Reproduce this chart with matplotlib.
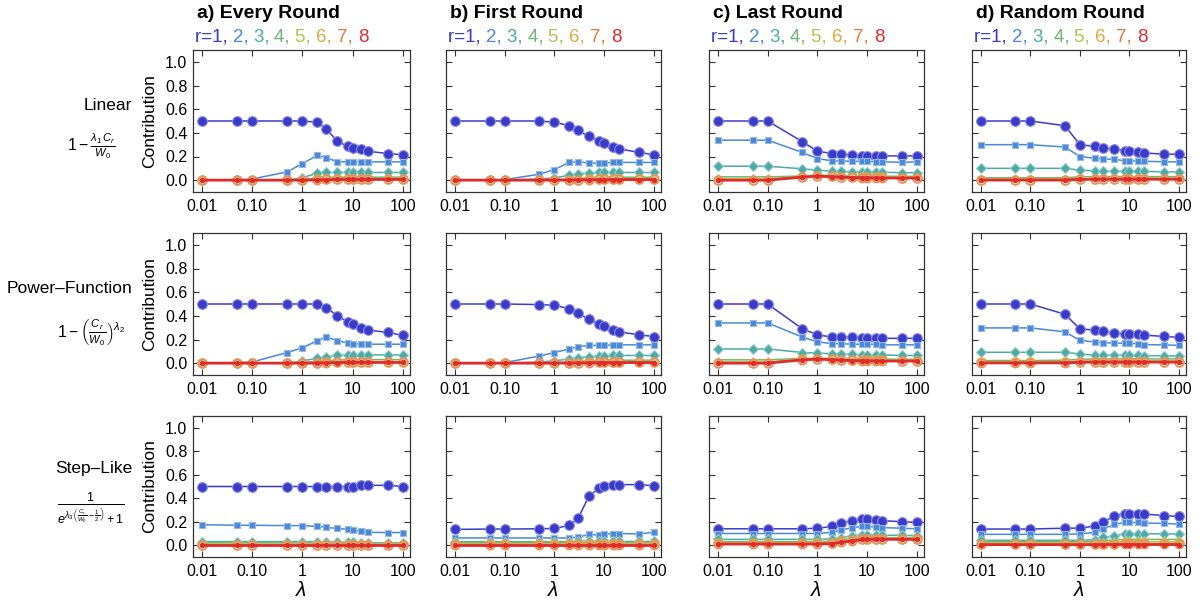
import matplotlib
matplotlib.use('Agg')
import matplotlib.pyplot as plt
from matplotlib.ticker import FixedLocator, LogLocator, NullFormatter

plt.rcParams['font.family'] = ['Liberation Sans', 'DejaVu Sans']
plt.rcParams['mathtext.fontset'] = 'custom'
plt.rcParams['mathtext.rm'] = 'Liberation Sans'
plt.rcParams['mathtext.it'] = 'Liberation Sans:italic'

W, H = 1201, 605

lam = [0.01, 0.05, 0.1, 0.5, 1, 2, 3, 5, 8, 10, 15, 20, 50, 100]

col_titles = ['a) Every Round', 'b) First Round', 'c) Last Round', 'd) Random Round']
row_names = ['Linear', 'Power\u2013Function', 'Step\u2013Like']
row_formulas = [r'$1-\frac{\lambda_1\,C_r}{W_0}$',
                r'$1-\left(\frac{C_r}{W_0}\right)^{\lambda_2}$',
                r'$\frac{1}{e^{\lambda_3\left(\frac{C_r}{W_0}-\frac{1}{2}\right)}+1}$']
round_labels = ['r=1, ', '2, ', '3, ', '4, ', '5, ', '6, ', '7, ', '8']

# contribution of round r (rows of each list: r=1..8) vs lambda
linear_every = [
    [0.50, 0.50, 0.50, 0.50, 0.50, 0.49, 0.43, 0.33, 0.285, 0.27, 0.26, 0.245, 0.225, 0.215],
    [0.00, 0.00, 0.01, 0.07, 0.14, 0.21, 0.19, 0.155, 0.155, 0.155, 0.155, 0.155, 0.155, 0.155],
    [0.00, 0.00, 0.00, 0.00, 0.02, 0.06, 0.065, 0.065, 0.065, 0.065, 0.065, 0.065, 0.065, 0.065],
    [0.00, 0.00, 0.00, 0.00, 0.005, 0.02, 0.025, 0.025, 0.025, 0.025, 0.025, 0.025, 0.025, 0.025],
    [0.00, 0.00, 0.00, 0.00, 0.00, 0.01, 0.012, 0.012, 0.012, 0.012, 0.012, 0.012, 0.012, 0.012],
    [0.00, 0.00, 0.00, 0.00, 0.00, 0.006, 0.008, 0.01, 0.01, 0.01, 0.01, 0.01, 0.01, 0.01],
    [0.00, 0.00, 0.00, 0.00, 0.00, 0.004, 0.006, 0.008, 0.008, 0.008, 0.008, 0.008, 0.008, 0.008],
    [0.00, 0.00, 0.00, 0.00, 0.00, 0.002, 0.004, 0.006, 0.006, 0.006, 0.006, 0.006, 0.006, 0.006],
]
linear_first = [
    [0.50, 0.50, 0.50, 0.50, 0.49, 0.46, 0.42, 0.37, 0.33, 0.31, 0.28, 0.265, 0.235, 0.215],
    [0.00, 0.00, 0.005, 0.05, 0.09, 0.15, 0.155, 0.145, 0.145, 0.145, 0.15, 0.15, 0.15, 0.15],
    [0.00, 0.00, 0.00, 0.01, 0.02, 0.04, 0.055, 0.06, 0.065, 0.065, 0.065, 0.065, 0.065, 0.065],
    [0.00, 0.00, 0.00, 0.00, 0.005, 0.01, 0.015, 0.02, 0.02, 0.025, 0.025, 0.025, 0.025, 0.025],
    [0.00, 0.00, 0.00, 0.00, 0.00, 0.005, 0.008, 0.01, 0.01, 0.012, 0.012, 0.012, 0.012, 0.012],
    [0.00, 0.00, 0.00, 0.00, 0.00, 0.003, 0.005, 0.007, 0.008, 0.008, 0.009, 0.009, 0.009, 0.009],
    [0.00, 0.00, 0.00, 0.00, 0.00, 0.002, 0.003, 0.005, 0.006, 0.006, 0.007, 0.007, 0.007, 0.007],
    [0.00, 0.00, 0.00, 0.00, 0.00, 0.001, 0.002, 0.003, 0.004, 0.004, 0.005, 0.005, 0.005, 0.005],
]
linear_last = [
    [0.50, 0.50, 0.50, 0.325, 0.245, 0.225, 0.222, 0.212, 0.205, 0.208, 0.205, 0.205, 0.205, 0.205],
    [0.338, 0.338, 0.338, 0.234, 0.183, 0.163, 0.162, 0.16, 0.158, 0.158, 0.156, 0.155, 0.151, 0.155],
    [0.118, 0.118, 0.118, 0.096, 0.084, 0.076, 0.074, 0.07, 0.07, 0.07, 0.068, 0.066, 0.064, 0.062],
    [0.028, 0.028, 0.028, 0.035, 0.04, 0.038, 0.036, 0.035, 0.034, 0.034, 0.033, 0.033, 0.032, 0.032],
    [0.01, 0.01, 0.01, 0.032, 0.04, 0.036, 0.033, 0.03, 0.028, 0.028, 0.027, 0.026, 0.025, 0.025],
    [0.005, 0.005, 0.005, 0.03, 0.038, 0.033, 0.03, 0.027, 0.025, 0.025, 0.024, 0.023, 0.022, 0.022],
    [0.002, 0.002, 0.002, 0.028, 0.036, 0.031, 0.028, 0.024, 0.022, 0.022, 0.021, 0.02, 0.02, 0.02],
    [0.00, 0.00, 0.00, 0.026, 0.034, 0.029, 0.026, 0.022, 0.02, 0.02, 0.019, 0.018, 0.018, 0.018],
]
linear_random = [
    [0.50, 0.50, 0.50, 0.46, 0.30, 0.285, 0.275, 0.265, 0.25, 0.245, 0.24, 0.23, 0.22, 0.22],
    [0.30, 0.30, 0.30, 0.28, 0.20, 0.185, 0.18, 0.175, 0.165, 0.165, 0.16, 0.16, 0.155, 0.155],
    [0.10, 0.10, 0.10, 0.10, 0.085, 0.08, 0.075, 0.075, 0.075, 0.075, 0.075, 0.075, 0.07, 0.07],
    [0.02, 0.02, 0.02, 0.02, 0.028, 0.03, 0.03, 0.03, 0.03, 0.03, 0.03, 0.03, 0.03, 0.03],
    [0.01, 0.01, 0.01, 0.01, 0.015, 0.017, 0.018, 0.018, 0.018, 0.018, 0.018, 0.018, 0.018, 0.018],
    [0.005, 0.005, 0.005, 0.005, 0.01, 0.012, 0.012, 0.012, 0.012, 0.012, 0.012, 0.012, 0.012, 0.012],
    [0.003, 0.003, 0.003, 0.003, 0.008, 0.01, 0.01, 0.01, 0.01, 0.01, 0.01, 0.01, 0.01, 0.01],
    [0.001, 0.001, 0.001, 0.001, 0.006, 0.008, 0.008, 0.008, 0.008, 0.008, 0.008, 0.008, 0.008, 0.008],
]
power_every = [
    [0.50, 0.50, 0.50, 0.50, 0.50, 0.50, 0.47, 0.40, 0.35, 0.33, 0.30, 0.28, 0.26, 0.235],
    [0.00, 0.005, 0.01, 0.09, 0.13, 0.19, 0.22, 0.19, 0.17, 0.165, 0.16, 0.16, 0.16, 0.16],
    [0.00, 0.00, 0.00, 0.00, 0.02, 0.04, 0.055, 0.065, 0.07, 0.07, 0.07, 0.07, 0.07, 0.07],
    [0.00, 0.00, 0.00, 0.00, 0.005, 0.015, 0.02, 0.025, 0.03, 0.03, 0.03, 0.03, 0.03, 0.03],
    [0.00, 0.00, 0.00, 0.00, 0.00, 0.006, 0.01, 0.012, 0.014, 0.014, 0.014, 0.014, 0.014, 0.014],
    [0.00, 0.00, 0.00, 0.00, 0.00, 0.004, 0.007, 0.009, 0.01, 0.01, 0.01, 0.01, 0.01, 0.01],
    [0.00, 0.00, 0.00, 0.00, 0.00, 0.002, 0.005, 0.007, 0.008, 0.008, 0.008, 0.008, 0.008, 0.008],
    [0.00, 0.00, 0.00, 0.00, 0.00, 0.001, 0.003, 0.005, 0.006, 0.006, 0.006, 0.006, 0.006, 0.006],
]
power_first = [
    [0.50, 0.50, 0.50, 0.495, 0.49, 0.46, 0.42, 0.37, 0.33, 0.31, 0.28, 0.265, 0.24, 0.225],
    [0.00, 0.00, 0.005, 0.06, 0.09, 0.12, 0.14, 0.15, 0.15, 0.15, 0.155, 0.155, 0.155, 0.155],
    [0.00, 0.00, 0.00, 0.01, 0.02, 0.035, 0.045, 0.055, 0.06, 0.06, 0.065, 0.065, 0.065, 0.065],
    [0.00, 0.00, 0.00, 0.00, 0.005, 0.01, 0.015, 0.02, 0.022, 0.024, 0.025, 0.025, 0.025, 0.025],
    [0.00, 0.00, 0.00, 0.00, 0.00, 0.004, 0.007, 0.01, 0.011, 0.012, 0.012, 0.012, 0.012, 0.012],
    [0.00, 0.00, 0.00, 0.00, 0.00, 0.003, 0.005, 0.007, 0.008, 0.008, 0.009, 0.009, 0.009, 0.009],
    [0.00, 0.00, 0.00, 0.00, 0.00, 0.002, 0.003, 0.005, 0.006, 0.006, 0.007, 0.007, 0.007, 0.007],
    [0.00, 0.00, 0.00, 0.00, 0.00, 0.001, 0.002, 0.003, 0.004, 0.004, 0.005, 0.005, 0.005, 0.005],
]
power_last = [
    [0.50, 0.50, 0.50, 0.29, 0.24, 0.22, 0.22, 0.22, 0.215, 0.215, 0.21, 0.21, 0.21, 0.21],
    [0.34, 0.34, 0.34, 0.22, 0.18, 0.165, 0.165, 0.16, 0.16, 0.16, 0.16, 0.155, 0.155, 0.155],
    [0.12, 0.12, 0.12, 0.09, 0.085, 0.08, 0.075, 0.075, 0.07, 0.07, 0.07, 0.07, 0.065, 0.065],
    [0.028, 0.028, 0.028, 0.04, 0.042, 0.04, 0.038, 0.036, 0.035, 0.035, 0.034, 0.034, 0.033, 0.033],
    [0.01, 0.01, 0.01, 0.035, 0.04, 0.036, 0.033, 0.03, 0.028, 0.028, 0.027, 0.026, 0.025, 0.025],
    [0.005, 0.005, 0.005, 0.033, 0.038, 0.033, 0.03, 0.027, 0.025, 0.025, 0.024, 0.023, 0.022, 0.022],
    [0.002, 0.002, 0.002, 0.03, 0.036, 0.031, 0.028, 0.024, 0.022, 0.022, 0.021, 0.02, 0.02, 0.02],
    [0.00, 0.00, 0.00, 0.028, 0.034, 0.029, 0.026, 0.022, 0.02, 0.02, 0.019, 0.018, 0.018, 0.018],
]
power_random = [
    [0.50, 0.50, 0.50, 0.413, 0.29, 0.279, 0.268, 0.257, 0.25, 0.25, 0.245, 0.237, 0.226, 0.218],
    [0.298, 0.298, 0.298, 0.265, 0.193, 0.179, 0.173, 0.17, 0.168, 0.168, 0.165, 0.157, 0.154, 0.151],
    [0.092, 0.092, 0.092, 0.092, 0.078, 0.067, 0.067, 0.067, 0.067, 0.066, 0.065, 0.064, 0.062, 0.061],
    [0.022, 0.022, 0.022, 0.025, 0.032, 0.035, 0.036, 0.036, 0.036, 0.036, 0.036, 0.036, 0.036, 0.036],
    [0.012, 0.012, 0.012, 0.013, 0.018, 0.02, 0.02, 0.02, 0.02, 0.02, 0.02, 0.02, 0.02, 0.02],
    [0.007, 0.007, 0.007, 0.008, 0.012, 0.014, 0.014, 0.014, 0.014, 0.014, 0.014, 0.014, 0.014, 0.014],
    [0.004, 0.004, 0.004, 0.005, 0.009, 0.011, 0.011, 0.011, 0.011, 0.011, 0.011, 0.011, 0.011, 0.011],
    [0.002, 0.002, 0.002, 0.003, 0.007, 0.009, 0.009, 0.009, 0.009, 0.009, 0.009, 0.009, 0.009, 0.009],
]
step_every = [
    [0.50, 0.50, 0.50, 0.50, 0.50, 0.50, 0.50, 0.50, 0.50, 0.50, 0.51, 0.51, 0.51, 0.50],
    [0.175, 0.17, 0.17, 0.167, 0.167, 0.16, 0.152, 0.143, 0.135, 0.127, 0.12, 0.11, 0.108, 0.108],
    [0.031, 0.031, 0.031, 0.031, 0.031, 0.03, 0.029, 0.027, 0.025, 0.024, 0.022, 0.021, 0.02, 0.02],
    [0.02, 0.02, 0.02, 0.02, 0.02, 0.02, 0.019, 0.018, 0.017, 0.016, 0.015, 0.015, 0.014, 0.014],
    [0.01, 0.01, 0.01, 0.01, 0.01, 0.01, 0.01, 0.01, 0.01, 0.01, 0.01, 0.01, 0.01, 0.01],
    [0.006, 0.006, 0.006, 0.006, 0.006, 0.006, 0.006, 0.006, 0.006, 0.006, 0.006, 0.006, 0.006, 0.006],
    [0.004, 0.004, 0.004, 0.004, 0.004, 0.004, 0.004, 0.004, 0.004, 0.004, 0.004, 0.004, 0.004, 0.004],
    [0.002, 0.002, 0.002, 0.002, 0.002, 0.002, 0.002, 0.002, 0.002, 0.002, 0.002, 0.002, 0.002, 0.002],
]
step_first = [
    [0.135, 0.138, 0.138, 0.14, 0.143, 0.169, 0.228, 0.422, 0.485, 0.502, 0.516, 0.516, 0.516, 0.507],
    [0.062, 0.062, 0.062, 0.062, 0.062, 0.062, 0.068, 0.093, 0.085, 0.093, 0.10, 0.10, 0.096, 0.11],
    [0.03, 0.03, 0.03, 0.03, 0.03, 0.03, 0.032, 0.04, 0.033, 0.033, 0.032, 0.032, 0.032, 0.032],
    [0.02, 0.02, 0.02, 0.02, 0.02, 0.02, 0.02, 0.022, 0.02, 0.02, 0.02, 0.02, 0.02, 0.02],
    [0.012, 0.012, 0.012, 0.012, 0.012, 0.012, 0.012, 0.012, 0.012, 0.012, 0.012, 0.012, 0.012, 0.012],
    [0.008, 0.008, 0.008, 0.008, 0.008, 0.008, 0.008, 0.008, 0.008, 0.008, 0.008, 0.008, 0.008, 0.008],
    [0.005, 0.005, 0.005, 0.005, 0.005, 0.005, 0.005, 0.005, 0.005, 0.005, 0.005, 0.005, 0.005, 0.005],
    [0.003, 0.003, 0.003, 0.003, 0.003, 0.003, 0.003, 0.003, 0.003, 0.003, 0.003, 0.003, 0.003, 0.003],
]
step_last = [
    [0.14, 0.14, 0.14, 0.14, 0.145, 0.16, 0.19, 0.21, 0.22, 0.22, 0.215, 0.21, 0.20, 0.195],
    [0.10, 0.10, 0.10, 0.10, 0.10, 0.11, 0.13, 0.15, 0.16, 0.16, 0.155, 0.15, 0.145, 0.14],
    [0.05, 0.05, 0.05, 0.05, 0.05, 0.055, 0.065, 0.08, 0.09, 0.09, 0.088, 0.085, 0.085, 0.082],
    [0.03, 0.03, 0.03, 0.03, 0.03, 0.035, 0.045, 0.055, 0.065, 0.065, 0.065, 0.065, 0.065, 0.065],
    [0.022, 0.022, 0.022, 0.022, 0.022, 0.027, 0.037, 0.047, 0.058, 0.06, 0.06, 0.06, 0.06, 0.06],
    [0.016, 0.016, 0.016, 0.016, 0.016, 0.021, 0.032, 0.043, 0.055, 0.057, 0.057, 0.057, 0.056, 0.056],
    [0.012, 0.012, 0.012, 0.012, 0.012, 0.017, 0.028, 0.04, 0.052, 0.054, 0.054, 0.054, 0.053, 0.053],
    [0.01, 0.01, 0.01, 0.01, 0.01, 0.014, 0.025, 0.037, 0.049, 0.051, 0.051, 0.051, 0.05, 0.05],
]
step_random = [
    [0.138, 0.138, 0.138, 0.145, 0.146, 0.163, 0.194, 0.253, 0.27, 0.27, 0.27, 0.265, 0.253, 0.245],
    [0.093, 0.093, 0.093, 0.093, 0.096, 0.11, 0.138, 0.177, 0.194, 0.194, 0.194, 0.189, 0.186, 0.18],
    [0.042, 0.042, 0.042, 0.042, 0.042, 0.048, 0.068, 0.079, 0.099, 0.099, 0.099, 0.098, 0.097, 0.096],
    [0.03, 0.03, 0.03, 0.03, 0.03, 0.032, 0.038, 0.045, 0.05, 0.05, 0.05, 0.05, 0.05, 0.05],
    [0.02, 0.02, 0.02, 0.02, 0.02, 0.021, 0.024, 0.027, 0.03, 0.03, 0.03, 0.03, 0.03, 0.03],
    [0.012, 0.012, 0.012, 0.012, 0.012, 0.012, 0.013, 0.014, 0.015, 0.015, 0.015, 0.015, 0.015, 0.015],
    [0.008, 0.008, 0.008, 0.008, 0.008, 0.008, 0.009, 0.01, 0.01, 0.01, 0.01, 0.01, 0.01, 0.01],
    [0.005, 0.005, 0.005, 0.005, 0.005, 0.005, 0.006, 0.006, 0.006, 0.006, 0.006, 0.006, 0.006, 0.006],
]

panels = [[linear_every, linear_first, linear_last, linear_random],
          [power_every, power_first, power_last, power_random],
          [step_every, step_first, step_last, step_random]]

colors = ['#3b3bc9', '#4a88d8', '#4eaaa6', '#6db86c', '#b3c14f', '#e1a840', '#e8773a', '#e02b2b']
edge_colors = ['#8c8ce2', '#93b8ea', '#94cdca', '#a4d4a4', '#d4dc98', '#e1a840', '#ec8c5c', '#e02b2b']
markers = ['o', 's', 'D', '^', 'o', 'o', 'o', 'o']
msizes = [7, 4.5, 5, 4.5, 4, 6.5, 6, 3]
lwidths = [1.1, 1.1, 1.1, 1.1, 1.1, 1.1, 1.1, 2.0]

# panel frames in pixels: (left, right) per column, (top, bottom) per row
col_px = [(193, 410), (446, 661), (709, 924), (972, 1186)]
row_px = [(50, 192), (233, 375), (416, 557)]


def fx(x):
    return x / W


def fy(y):
    return 1 - y / H


fig = plt.figure(figsize=(W / 100, H / 100), dpi=100)

for i, (top, bot) in enumerate(row_px):
    for j, (left, right) in enumerate(col_px):
        ax = fig.add_axes([fx(left), fy(bot), (right - left) / W, (bot - top) / H])
        data = panels[i][j]
        for r in range(8):
            open_m = r in (5, 6)
            ax.plot(lam, data[r], color=colors[r], lw=lwidths[r],
                    marker=markers[r], ms=msizes[r],
                    mfc='none' if open_m else colors[r],
                    mec=edge_colors[r], mew=1.1 if open_m else 0.8,
                    zorder=3 + r, clip_on=False)
        ax.set_xscale('log')
        ax.set_xlim(0.0066, 140)
        ax.set_ylim(-0.1, 1.1)
        ax.xaxis.set_major_locator(FixedLocator([0.01, 0.1, 1, 10, 100]))
        ax.xaxis.set_minor_locator(LogLocator(base=10, subs=range(2, 10)))
        ax.xaxis.set_minor_formatter(NullFormatter())
        ax.set_xticklabels(['0.01', '0.10', '1', '10', '100'])
        ax.set_yticks([0.0, 0.2, 0.4, 0.6, 0.8, 1.0])
        if j == 0:
            ax.set_yticklabels(['0.0', '0.2', '0.4', '0.6', '0.8', '1.0'])
        else:
            ax.set_yticklabels([])
        ax.tick_params(which='both', direction='in', top=True, right=True,
                       labelsize=11.5, color='#333333')
        ax.tick_params(which='major', length=4, width=0.8)
        ax.tick_params(which='minor', length=2, width=0.6)
        ax.tick_params(axis='x', pad=5)
        ax.tick_params(axis='y', pad=4)
        for s in ax.spines.values():
            s.set_color('#333333')
            s.set_linewidth(0.9)
        if j == 0:
            fig.text(fx(150), fy((top + bot) / 2), 'Contribution', rotation=90,
                     ha='center', va='center', fontsize=12.5)
        if i == 2:
            fig.text(fx((left + right) / 2), fy(591), r'$\lambda$',
                     ha='center', va='center', fontsize=15)

# column headers with coloured round list
for j, (left, right) in enumerate(col_px):
    fig.text(fx(left + 4), fy(14), col_titles[j], ha='left', va='center',
             fontsize=14, fontweight='bold')
    prev = fig.text(fx(left + 2), fy(37), round_labels[0], ha='left',
                    va='center', fontsize=13.5, color=colors[0])
    for k in range(1, 8):
        prev = fig.axes[0].annotate(round_labels[k], xy=(1, 0), xycoords=prev,
                                    ha='left', va='bottom', fontsize=13.5,
                                    color=colors[k], annotation_clip=False)

# row labels and formulas
row_label_y = [105, 288, 468]
formula_y = [146, 332, 508]
for i in range(3):
    fig.text(fx(132), fy(row_label_y[i]), row_names[i], ha='right', va='center',
             fontsize=12.5)
    fig.text(fx(91), fy(formula_y[i]), row_formulas[i], ha='center', va='center',
             fontsize=11.5 if i < 2 else 13)

fig.savefig('out.png', dpi=100)
